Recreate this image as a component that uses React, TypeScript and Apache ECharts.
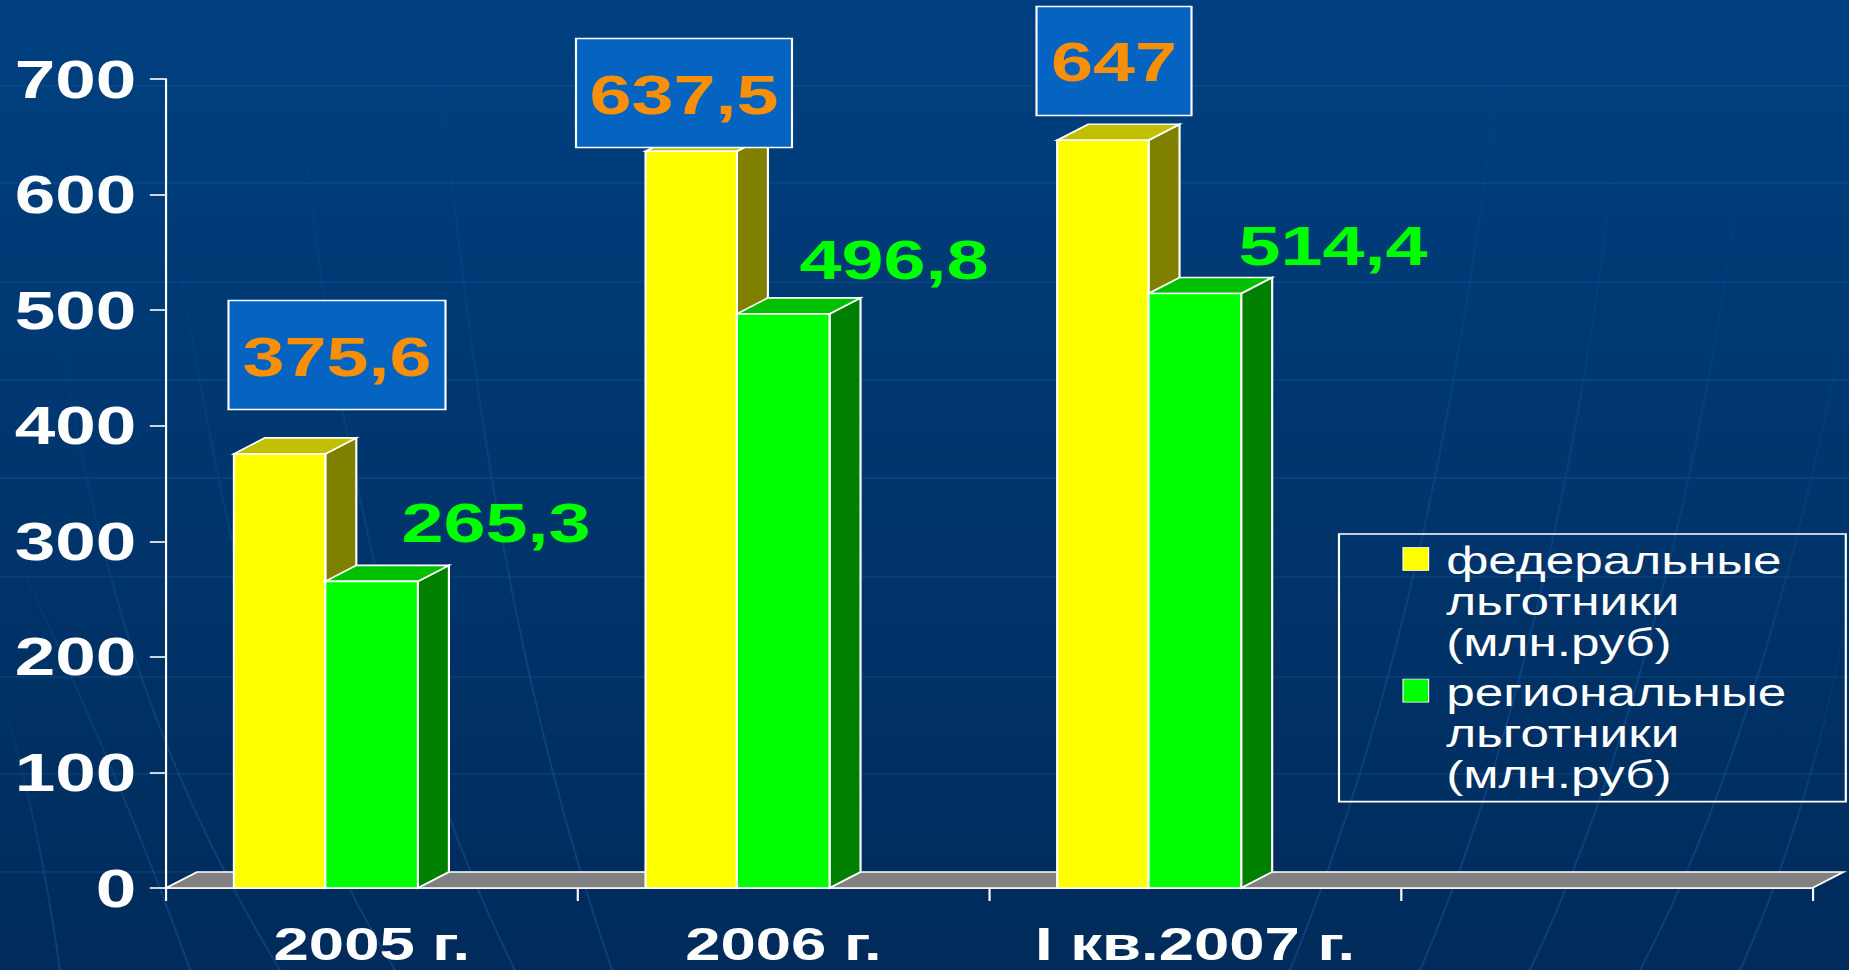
import React, { useEffect, useRef } from "react";
import * as echarts from "echarts";

const categories = ["2005 г.", "2006 г.", "I кв.2007 г.", ""];
const yTicks = { min: 0, max: 700, interval: 100 };
const federalName = "федеральные\nльготники\n(млн.руб)";
const regionalName = "региональные\nльготники\n(млн.руб)";
const federalValues = [375.6, 637.5, 647];
const regionalValues = [265.3, 496.8, 514.4];

// The source picture is a horizontally stretched slide: the chart is drawn narrower and stretched by CSS.
const STRETCH = 1.35;
const W = 1849 / STRETCH;
const H = 970;
const sx = (x: number) => x / STRETCH;

const DEPTH_X = 31 / STRETCH;
const DEPTH_Y = 16;
const FONT = '"Liberation Sans", Arial, sans-serif';

// Label placement (page px): centre of text; box size when boxed
const federalLabelPos = [
  { cx: 337, cy: 355, w: 217, h: 109, ty: 357 },
  { cx: 684, cy: 93, w: 216, h: 109, ty: 95 },
  { cx: 1114, cy: 61, w: 155, h: 109, ty: 62 },
];
const regionalLabelPos = [
  { cx: 496, cy: 523 },
  { cx: 894, cy: 260 },
  { cx: 1333, cy: 246 },
];

// faint slide-background pattern (page px)
const parallels = [86, 183, 282, 380, 478, 577, 677, 774, 872];
const meridians: number[][] = [
  [0, 690, 20, 760, 40, 830, 60, 970],
  [0, 520, 60, 650, 130, 800, 190, 970],
  [60, 330, 100, 600, 170, 790, 280, 970],
  [170, 200, 230, 600, 290, 800, 395, 970],
  [300, 100, 340, 500, 420, 780, 515, 970],
  [440, 60, 480, 500, 540, 760, 612, 970],
  [1500, 60, 1460, 400, 1400, 700, 1290, 970],
  [1620, 100, 1590, 420, 1520, 740, 1420, 970],
  [1740, 180, 1700, 480, 1630, 760, 1530, 970],
  [1849, 300, 1800, 560, 1730, 800, 1640, 970],
  [1849, 600, 1830, 720, 1790, 860, 1740, 970],
];

const fmt = (v: number) => String(v).replace(".", ",");

function barRender(front: string, side: string, top: string, leftFrac: number, widthFrac: number) {
  return (_p: any, api: any) => {
    const base = api.coord([api.value(0), 0]);
    const tip = api.coord([api.value(0), api.value(1)]);
    const band = api.size([1, 0])[0];
    const x0 = base[0] + leftFrac * band;
    const x1 = x0 + widthFrac * band;
    const y0 = base[1];
    const y1 = tip[1];
    const edge = { stroke: "#ffffff", lineWidth: 1.6 };
    return {
      type: "group",
      children: [
        {
          type: "polygon",
          shape: { points: [[x1, y0], [x1 + DEPTH_X, y0 - DEPTH_Y], [x1 + DEPTH_X, y1 - DEPTH_Y], [x1, y1]] },
          style: { fill: side, ...edge },
        },
        {
          type: "polygon",
          shape: { points: [[x0, y1], [x0 + DEPTH_X, y1 - DEPTH_Y], [x1 + DEPTH_X, y1 - DEPTH_Y], [x1, y1]] },
          style: { fill: top, ...edge },
        },
        {
          type: "rect",
          shape: { x: x0, y: y1, width: x1 - x0, height: y0 - y1 },
          style: { fill: front, ...edge },
        },
      ],
    };
  };
}

function floorRender(params: any) {
  const c = params.coordSys;
  const y = c.y + c.height;
  return {
    type: "polygon",
    shape: {
      points: [
        [c.x, y],
        [c.x + DEPTH_X, y - DEPTH_Y],
        [c.x + c.width + DEPTH_X, y - DEPTH_Y],
        [c.x + c.width, y],
      ],
    },
    style: { fill: "#808080", stroke: "#ffffff", lineWidth: 1.6 },
  };
}

export default function App() {
  const ref = useRef<HTMLDivElement>(null);
  useEffect(() => {
    document.body.style.margin = "0";
    document.body.style.overflow = "hidden";
    const chart = echarts.init(ref.current!, undefined, { renderer: "svg" });
    const axisLine = { show: true, lineStyle: { color: "#ffffff", width: 1.6 } };
    const graphic: any[] = [];
    parallels.forEach((y) =>
      graphic.push({
        type: "line",
        z: 0,
        silent: true,
        shape: { x1: 0, y1: y, x2: W, y2: y },
        style: { stroke: "rgba(40,110,190,0.17)", lineWidth: 2 },
      })
    );
    meridians.forEach((m) =>
      graphic.push({
        type: "bezierCurve",
        z: 0,
        silent: true,
        shape: {
          x1: sx(m[0]), y1: m[1], cpx1: sx(m[2]), cpy1: m[3],
          cpx2: sx(m[4]), cpy2: m[5], x2: sx(m[6]), y2: m[7],
        },
        style: {
          fill: "none",
          lineWidth: 1.5,
          stroke: {
            type: "linear", x: 0, y: 0, x2: 0, y2: 1,
            colorStops: [
              { offset: 0, color: "rgba(40,110,190,0)" },
              { offset: 0.6, color: "rgba(40,110,190,0.25)" },
              { offset: 1, color: "rgba(40,110,190,0.3)" },
            ],
          },
        },
      })
    );
    federalValues.forEach((v, i) => {
      const p = federalLabelPos[i];
      graphic.push({
        type: "rect",
        z: 100,
        shape: { x: sx(p.cx - p.w / 2), y: p.cy - p.h / 2, width: sx(p.w), height: p.h },
        style: { fill: "#0563c1", stroke: "#ffffff", lineWidth: 1.6 },
      });
      graphic.push({
        type: "text",
        z: 101,
        style: {
          text: fmt(v), x: sx(p.cx), y: p.ty, align: "center", verticalAlign: "middle",
          fill: "#f78f08", font: `bold 56px ${FONT}`,
        },
      });
    });
    regionalValues.forEach((v, i) => {
      const p = regionalLabelPos[i];
      graphic.push({
        type: "text",
        z: 101,
        style: {
          text: fmt(v), x: sx(p.cx), y: p.cy, align: "center", verticalAlign: "middle",
          fill: "#00ff00", font: `bold 56px ${FONT}`,
        },
      });
    });

    chart.setOption({
      animation: false,
      backgroundColor: {
        type: "linear", x: 0, y: 0, x2: 0, y2: 1,
        colorStops: [
          { offset: 0, color: "#004080" },
          { offset: 1, color: "#002b5a" },
        ],
      },
      grid: { left: sx(166), right: W - sx(1812), top: 79, bottom: H - 888 },
      xAxis: {
        type: "category",
        data: categories,
        axisLine,
        axisTick: { show: true, length: 13, alignWithLabel: false, lineStyle: { color: "#ffffff", width: 1.6 } },
        axisLabel: { color: "#ffffff", fontFamily: FONT, fontWeight: "bold", fontSize: 47, margin: 32, interval: 0 },
        splitLine: { show: false },
      },
      yAxis: {
        type: "value",
        ...yTicks,
        axisLine,
        axisTick: { show: true, length: 12, lineStyle: { color: "#ffffff", width: 1.6 } },
        axisLabel: { color: "#ffffff", fontFamily: FONT, fontWeight: "bold", fontSize: 54, margin: 22, padding: [5, 0, 0, 0] },
        splitLine: { show: false },
      },
      legend: {
        show: true,
        orient: "vertical",
        left: sx(1339),
        top: 534,
        padding: [6, 44, 6, 47],
        itemGap: 8,
        itemWidth: 27,
        itemHeight: 123,
        icon: "path://M0 0L0 0M0 7H19V30H0Z M27 123L27 123",
        selectedMode: false,
        borderColor: "#ffffff",
        borderWidth: 1.6,
        backgroundColor: "transparent",
        itemStyle: { borderColor: "#ffffff", borderWidth: 0.8 },
        textStyle: { color: "#ffffff", fontFamily: FONT, fontSize: 38, lineHeight: 41 },
        data: [federalName, regionalName],
      },
      graphic,
      series: [
        {
          type: "custom",
          name: "floor",
          coordinateSystem: "cartesian2d",
          z: 1,
          silent: true,
          renderItem: floorRender,
          data: [[0, 0]],
        },
        {
          type: "custom",
          name: federalName,
          coordinateSystem: "cartesian2d",
          z: 2,
          itemStyle: { color: "#ffff00" },
          renderItem: barRender("#ffff00", "#808000", "#c0c000", -0.335, 0.222),
          data: federalValues.map((v, i) => [i, v]),
        },
        {
          type: "custom",
          name: regionalName,
          coordinateSystem: "cartesian2d",
          z: 3,
          itemStyle: { color: "#00ff00" },
          renderItem: barRender("#00ff00", "#008000", "#00c000", -0.113, 0.225),
          data: regionalValues.map((v, i) => [i, v]),
        },
      ],
    });
    return () => chart.dispose();
  }, []);
  return (
    <div style={{ width: 1849, height: H, overflow: "hidden" }}>
      <div
        ref={ref}
        style={{ width: W, height: H, transform: `scaleX(${STRETCH})`, transformOrigin: "0 0" }}
      />
    </div>
  );
}
